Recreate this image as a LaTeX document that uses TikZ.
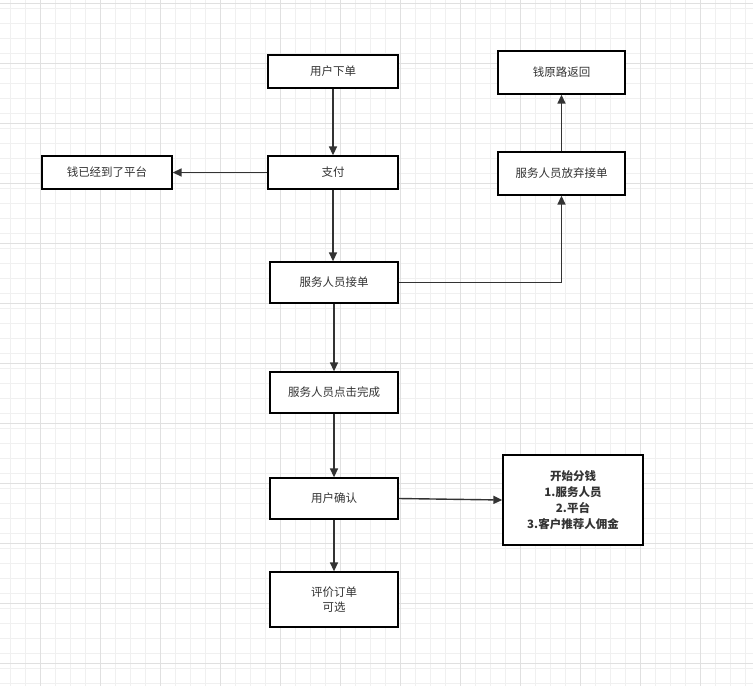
\documentclass[tikz,border=0pt]{standalone}
\usepackage{fontspec}
\setmainfont{Noto Sans CJK SC}
\usetikzlibrary{arrows.meta}
\begin{document}
\begin{tikzpicture}[x=1pt,y=-1pt,
  box/.style={draw=black,line width=1.3pt,fill=white,inner sep=0pt,align=center,font=\fontsize{11.5}{15}\selectfont,text=black!80},
  conn/.style={draw=black!80,line width=1.4pt,-{Triangle[length=9pt,width=8pt]}}]
\useasboundingbox (0,0) rectangle (753,686);
\fill[white] (0,0) rectangle (753,686);
\foreach \x in {10,25,...,753} \draw[black!6,line width=0.8pt] (\x,0)--(\x,686);
\foreach \y in {8.5,23.5,...,686} \draw[black!6,line width=0.8pt] (0,\y)--(753,\y);
\foreach \x in {40,100,...,753} \draw[black!12,line width=0.8pt] (\x,0)--(\x,686);
\foreach \y in {3.5,63.5,...,686} \draw[black!12,line width=0.8pt] (0,\y)--(753,\y);
\node[box,minimum width=130pt,minimum height=33pt] (a) at (333,71.5) {用户下单};
\node[box,minimum width=130pt,minimum height=33pt] (b) at (333,172.5) {支付};
\node[box,minimum width=130pt,minimum height=33pt] (c) at (107,172.5) {钱已经到了平台};
\node[box,minimum width=128pt,minimum height=41pt] (d) at (334,282.5) {服务人员接单};
\node[box,minimum width=128pt,minimum height=41pt] (e) at (334,392.5) {服务人员点击完成};
\node[box,minimum width=128pt,minimum height=41pt] (f) at (334,498.5) {用户确认};
\node[box,minimum width=128pt,minimum height=55pt] (g) at (334,599.5) {评价订单\\可选};
\node[box,minimum width=127pt,minimum height=43pt] (h) at (561.5,72.5) {钱原路返回};
\node[box,minimum width=127pt,minimum height=43pt] (i) at (561.5,173.5) {服务人员放弃接单};
\node[box,minimum width=140pt,minimum height=90pt,font=\bfseries\fontsize{11.5}{16}\selectfont] (j) at (573,500) {开始分钱\\1.服务人员\\2.平台\\3.客户推荐人佣金};
\draw[conn] (a) -- (b);
\draw[conn] (b.west) -- (c.east);
\draw[conn] (b.south) -- (d.north -| b.south);
\draw[conn] (d.east) -| (i.south);
\draw[conn] (i) -- (h);
\draw[conn] (d) -- (e);
\draw[conn] (e) -- (f);
\draw[conn] (f) -- (g);
\draw[conn] (f.east) -- (j.west);
\end{tikzpicture}
\end{document}
